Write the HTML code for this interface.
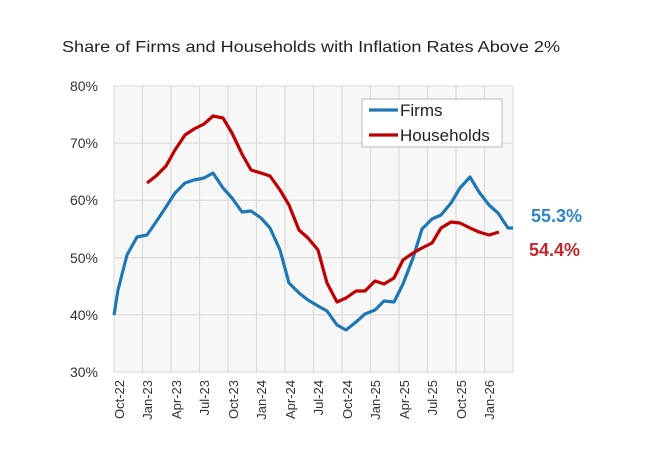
<!DOCTYPE html>
<html><head><meta charset="utf-8"><style>body{margin:0;background:#fff}svg{display:block}</style></head>
<body>
<svg width="646" height="450" xmlns="http://www.w3.org/2000/svg" font-family="Liberation Sans, sans-serif">
<text x="62" y="52" font-size="16" fill="#222" textLength="498" lengthAdjust="spacingAndGlyphs">Share of Firms and Households with Inflation Rates Above 2%</text>
<rect x="114" y="86" width="399" height="286" fill="#f7f7f7" stroke="#d9d9d9"/>
<g stroke="#dcdcdc" stroke-width="1.2">
<line x1="114" y1="143.2" x2="513" y2="143.2"/><line x1="114" y1="200.4" x2="513" y2="200.4"/><line x1="114" y1="257.6" x2="513" y2="257.6"/><line x1="114" y1="314.8" x2="513" y2="314.8"/>
<line x1="142.5" y1="86" x2="142.5" y2="372"/><line x1="171" y1="86" x2="171" y2="372"/><line x1="199.5" y1="86" x2="199.5" y2="372"/><line x1="228" y1="86" x2="228" y2="372"/><line x1="256.5" y1="86" x2="256.5" y2="372"/><line x1="285" y1="86" x2="285" y2="372"/><line x1="313.5" y1="86" x2="313.5" y2="372"/><line x1="342" y1="86" x2="342" y2="372"/><line x1="370.5" y1="86" x2="370.5" y2="372"/><line x1="399" y1="86" x2="399" y2="372"/><line x1="427.5" y1="86" x2="427.5" y2="372"/><line x1="456" y1="86" x2="456" y2="372"/><line x1="484.5" y1="86" x2="484.5" y2="372"/>
</g>
<g font-size="14" fill="#333" text-anchor="end">
<text x="98" y="91">80%</text><text x="98" y="148">70%</text><text x="98" y="205">60%</text><text x="98" y="263">50%</text><text x="98" y="320">40%</text><text x="98" y="377">30%</text>
</g>
<g font-size="13" fill="#333" text-anchor="end">
<text transform="translate(124,380) rotate(-90)">Oct-22</text>
<text transform="translate(152,380) rotate(-90)">Jan-23</text>
<text transform="translate(181,380) rotate(-90)">Apr-23</text>
<text transform="translate(209,380) rotate(-90)">Jul-23</text>
<text transform="translate(238,380) rotate(-90)">Oct-23</text>
<text transform="translate(266,380) rotate(-90)">Jan-24</text>
<text transform="translate(295,380) rotate(-90)">Apr-24</text>
<text transform="translate(323,380) rotate(-90)">Jul-24</text>
<text transform="translate(352,380) rotate(-90)">Oct-24</text>
<text transform="translate(380,380) rotate(-90)">Jan-25</text>
<text transform="translate(409,380) rotate(-90)">Apr-25</text>
<text transform="translate(437,380) rotate(-90)">Jul-25</text>
<text transform="translate(466,380) rotate(-90)">Oct-25</text>
<text transform="translate(494,380) rotate(-90)">Jan-26</text>
</g>
<polyline fill="none" stroke="#1f77b4" stroke-width="3.2" stroke-linejoin="round" points="114,315 118,290 127,255 137,237 147,235 156,222 166,207 175,193 185,183 194,180 204,178 213,173 223,188 232,198 242,212 251,211 261,218 270,228 280,250 289,283 299,293 308,300 318,306 327,311 337,325 346,330 356,322 365,314 375,310 384,301 394,302 403,284 413,258 422,229 432,219 441,215 451,203 460,188 470,177 479,192 489,205 498,213 508,228 513,228"/>
<polyline fill="none" stroke="#c00000" stroke-width="3.2" stroke-linejoin="round" points="147,183 156,176 166,166 175,150 185,135 194,129 204,124 213,116 223,118 232,133 242,154 251,170 261,173 270,176 280,190 289,205 299,230 308,238 318,250 327,283 337,302 346,298 356,291 365,291 375,281 384,284 394,278 403,260 413,253 422,248 432,243 441,228 451,222 460,223 470,228 479,232 489,235 499,232"/>
<rect x="362" y="99" width="140" height="48" fill="#fff" stroke="#bbb"/>
<line x1="369" y1="110" x2="398" y2="110" stroke="#1f77b4" stroke-width="3.2"/>
<line x1="369" y1="135" x2="398" y2="135" stroke="#c00000" stroke-width="3.2"/>
<text x="400" y="116" font-size="17" fill="#222">Firms</text>
<text x="400" y="141" font-size="17" fill="#222">Households</text>
<text x="531" y="222" font-size="18" font-weight="bold" fill="#2e86c1">55.3%</text>
<text x="529" y="256" font-size="18" font-weight="bold" fill="#c0282d">54.4%</text>
</svg>
</body></html>
